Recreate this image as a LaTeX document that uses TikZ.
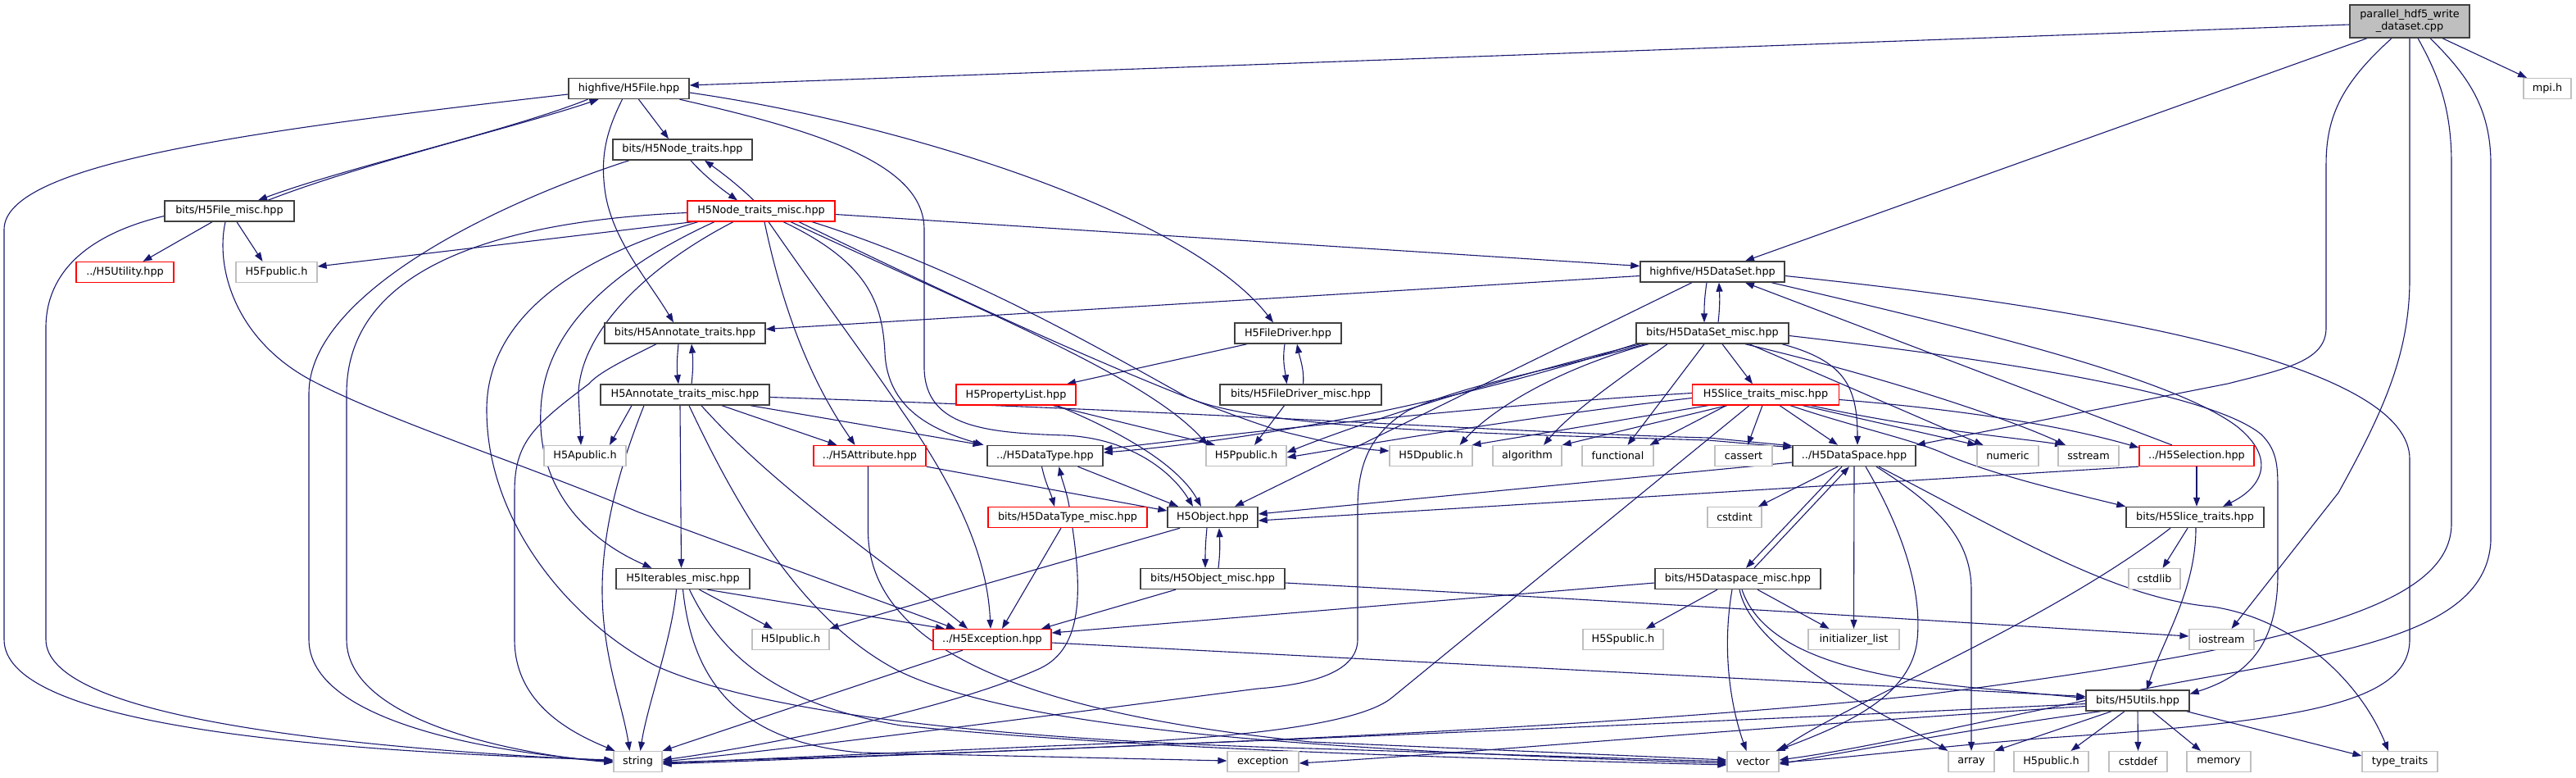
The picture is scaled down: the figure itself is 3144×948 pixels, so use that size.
\documentclass[tikz,border=0pt]{standalone}
\usepackage{fontspec}
\setmainfont{DejaVu Sans}
\usetikzlibrary{arrows.meta,backgrounds}
\definecolor{incblue}{HTML}{191970}
\definecolor{extgrey}{HTML}{BFBFBF}
\definecolor{boxdark}{HTML}{404040}

\begin{document}
\begin{tikzpicture}[x=1pt,y=-1pt,
    every node/.style={font=\fontsize{12.8pt}{15pt}\selectfont,inner sep=0pt,minimum height=25pt},
    dbox/.style={draw=boxdark,line width=1.4pt,fill=white},
    rbox/.style={draw=red,line width=1.2pt,fill=white},
    ext/.style={draw=extgrey,line width=1.2pt,fill=white},
    incl/.style={draw=incblue,line width=1.1pt,-{Triangle[length=11pt,width=8pt]}}]
    \useasboundingbox (0,0) rectangle (3144,948);

    \node[dbox,fill=extgrey,minimum width=146pt,minimum height=40pt,align=center] (root) at (2941,26) {parallel\_hdf5\_write\\\_dataset.cpp};
    \node[ext,minimum width=58pt] (mpih) at (3109,108) {mpi.h};
    \node[dbox,minimum width=147pt] (hfile) at (767.5,108) {highfive/H5File.hpp};
    \node[dbox,minimum width=158pt] (filemisc) at (280,257.5) {bits/H5File\_misc.hpp};
    \node[rbox,minimum width=119pt] (utility) at (152.5,332) {../H5Utility.hpp};
    \node[ext,minimum width=99pt] (fpublic) at (337.5,332) {H5Fpublic.h};
    \node[dbox,minimum width=170pt] (nodetraits) at (833,182.5) {bits/H5Node\_traits.hpp};
    \node[rbox,minimum width=180pt] (nodemisc) at (929,257.5) {H5Node\_traits\_misc.hpp};
    \node[dbox,minimum width=196pt] (annot) at (836,406.5) {bits/H5Annotate\_traits.hpp};
    \node[dbox,minimum width=206pt] (annotmisc) at (836,481.5) {H5Annotate\_traits\_misc.hpp};
    \node[dbox,minimum width=130pt] (driver) at (1572,406.5) {H5FileDriver.hpp};
    \node[dbox,minimum width=197pt] (drivermisc) at (1587.5,481.5) {bits/H5FileDriver\_misc.hpp};
    \node[rbox,minimum width=146pt] (proplist) at (1240,481.5) {H5PropertyList.hpp};
    \node[dbox,minimum width=176pt] (dataset) at (2090,331.5) {highfive/H5DataSet.hpp};
    \node[dbox,minimum width=186pt] (datasetmisc) at (2090,406.5) {bits/H5DataSet\_misc.hpp};
    \node[rbox,minimum width=179pt] (slicemisc) at (2155,481.5) {H5Slice\_traits\_misc.hpp};
    \node[dbox,minimum width=150pt] (dataspace) at (2263,556) {../H5DataSpace.hpp};
    \node[ext,minimum width=70pt] (cassert) at (2128,556) {cassert};
    \node[ext,minimum width=87pt] (functional) at (1974.5,556) {functional};
    \node[ext,minimum width=84pt] (algorithm) at (1864,556) {algorithm};
    \node[ext,minimum width=101pt] (dpublic) at (1746.5,556) {H5Dpublic.h};
    \node[ext,minimum width=98pt] (ppublic) at (1521,556) {H5Ppublic.h};
    \node[dbox,minimum width=141pt] (datatype) at (1275.5,556) {../H5DataType.hpp};
    \node[rbox,minimum width=137pt] (attribute) at (1061.5,556) {../H5Attribute.hpp};
    \node[ext,minimum width=100pt] (apublic) at (714,556) {H5Apublic.h};
    \node[rbox,minimum width=194pt] (datatypemisc) at (1303,631) {bits/H5DataType\_misc.hpp};
    \node[dbox,minimum width=110pt] (object) at (1480,631) {H5Object.hpp};
    \node[ext,minimum width=66pt] (cstdint) at (2117,631) {cstdint};
    \node[dbox,minimum width=163pt] (iterables) at (833.5,706) {H5Iterables\_misc.hpp};
    \node[dbox,minimum width=176pt] (objectmisc) at (1480,706) {bits/H5Object\_misc.hpp};
    \node[dbox,minimum width=202pt] (dsmisc) at (2121,706) {bits/H5Dataspace\_misc.hpp};
    \node[ext,minimum width=94pt] (ipublic) at (965,780) {H5Ipublic.h};
    \node[rbox,minimum width=144pt] (exceptionh) at (1211,780) {../H5Exception.hpp};
    \node[ext,minimum width=98pt] (spublic) at (1981,780) {H5Spublic.h};
    \node[ext,minimum width=111pt] (initlist) at (2262.5,780) {initializer\_list};
    \node[ext,minimum width=75pt] (numeric) at (2450.5,556) {numeric};
    \node[ext,minimum width=74pt] (sstream) at (2549,556) {sstream};
    \node[rbox,minimum width=140pt] (selection) at (2681,556) {../H5Selection.hpp};
    \node[dbox,minimum width=168pt] (slicetraits) at (2679,631) {bits/H5Slice\_traits.hpp};
    \node[ext,minimum width=63pt] (cstdlib) at (2629.5,706) {cstdlib};
    \node[ext,minimum width=79pt] (iostream) at (2711.5,780) {iostream};
    \node[dbox,minimum width=126pt] (utils) at (2609,854.5) {bits/H5Utils.hpp};
    \node[ext,minimum width=59pt] (string) at (778.5,929) {string};
    \node[ext,minimum width=87pt] (exception) at (1541.5,929) {exception};
    \node[ext,minimum width=63pt] (vector) at (2139.5,929) {vector};
    \node[ext,minimum width=56pt] (array) at (2406,929) {array};
    \node[ext,minimum width=91pt] (h5public) at (2503.5,929) {H5public.h};
    \node[ext,minimum width=71pt] (cstddef) at (2609.5,929) {cstddef};
    \node[ext,minimum width=78pt] (memory) at (2708,929) {memory};
    \node[ext,minimum width=92pt] (typetraits) at (2929,929) {type\_traits};

    \begin{scope}[on background layer]
    % parallel_hdf5_write_dataset.cpp
    \draw[incl] ([yshift=-4pt]root.west) -- ([yshift=4pt]hfile.east);
    \draw[incl] ([xshift=-52pt]root.south) -- ([xshift=40pt]dataset.north);
    \draw[incl] ([xshift=-22pt]root.south) .. controls (2860,100) and (2839,140) .. (2839,200) -- (2839,400) .. controls (2839,440) and (2790,450) .. (2719,468) -- (dataspace.north east);
    \draw[incl] (root.south) -- (2941,340) .. controls (2941,430) and (2910,500) .. (2854,601) -- ([xshift=12pt]iostream.north);
    \draw[incl] ([xshift=10pt]root.south) .. controls (2975,90) and (2992,130) .. (2992,200) -- (2992,640) .. controls (2990,740) and (2800,790) .. (2344,848) .. controls (1900,895) and (1200,918) .. ([yshift=-1pt]string.east);
    \draw[incl] ([xshift=25pt]root.south) .. controls (3010,90) and (3040,130) .. (3040,200) -- (3040,660) .. controls (3035,760) and (2900,790) .. (2700,825) .. controls (2500,860) and (2300,910) .. ([yshift=2pt]vector.east);
    \draw[incl] ([xshift=40pt]root.south) -- ([xshift=-25pt]mpih.north);
    % highfive/H5File.hpp
    \draw[incl] ([xshift=-50pt]hfile.south) .. controls (620,160) and (420,205) .. ([xshift=35pt]filemisc.north);
    \draw[incl] ([xshift=47pt]filemisc.north) .. controls (440,200) and (630,155) .. ([xshift=-37pt]hfile.south);
    \draw[incl] ([yshift=-7pt]hfile.west) .. controls (300,160) and (5,200) .. (5,280) -- (5,780) .. controls (5,880) and (350,915) .. ([yshift=2pt]string.west);
    \draw[incl] ([xshift=12pt]hfile.south) -- ([xshift=-17pt]nodetraits.north);
    \draw[incl] ([xshift=-8pt]hfile.south) .. controls (740,160) and (733,190) .. (738,230) .. controls (745,290) and (790,340) .. ([xshift=-14pt]annot.north);
    \draw[incl] ([xshift=62pt]hfile.south) .. controls (1000,160) and (1128,200) .. (1128,280) -- (1128,450) .. controls (1130,520) and (1200,528) .. (1300,531) .. controls (1380,535) and (1430,575) .. ([xshift=-24pt]object.north);
    \draw[incl] ([yshift=-5pt]hfile.east) .. controls (1100,150) and (1450,260) .. ([xshift=-18pt]driver.north);
    % bits/H5File_misc.hpp
    \draw[incl] ([xshift=-21pt]filemisc.south) -- ([xshift=22pt]utility.north);
    \draw[incl] ([xshift=9pt]filemisc.south) -- ([xshift=-17pt]fpublic.north);
    \draw[incl] ([yshift=-6pt]filemisc.west) .. controls (110,285) and (56,330) .. (56,400) -- (56,780) .. controls (56,870) and (380,910) .. ([yshift=1pt]string.west);
    \draw[incl] ([xshift=-5pt]filemisc.south) .. controls (262,330) and (290,420) .. (388,468) .. controls (480,515) and (650,570) .. (780,625) -- ([xshift=-45pt]exceptionh.north);
    % bits/H5Node_traits.hpp
    \draw[incl] ([xshift=10pt]nodetraits.south) .. controls (860,215) and (880,230) .. ([xshift=-29pt]nodemisc.north);
    \draw[incl] ([xshift=-9pt]nodemisc.north) .. controls (900,225) and (880,210) .. ([xshift=27pt]nodetraits.south);
    \draw[incl] ([xshift=-65pt]nodetraits.south) .. controls (600,250) and (377,360) .. (377,480) -- (377,780) .. controls (377,880) and (600,918) .. (string.west);
    % H5Node_traits_misc.hpp
    \draw[incl] ([xshift=-83pt]nodemisc.south) -- ([yshift=7pt]fpublic.east);
    \draw[incl] ([yshift=-2pt]nodemisc.west) .. controls (600,270) and (423,330) .. (423,480) -- (423,780) .. controls (423,885) and (650,922) .. ([yshift=-1pt]string.west);
    \draw[incl] ([xshift=-77pt]nodemisc.south) .. controls (650,330) and (594,420) .. (594,500) .. controls (594,640) and (700,760) .. (800,812) .. controls (950,880) and (1300,905) .. (1600,913) -- (vector.west);
    \draw[incl] ([xshift=-57pt]nodemisc.south) .. controls (720,340) and (663,420) .. (660,500) .. controls (655,600) and (720,660) .. ([xshift=-38pt]iterables.north);
    \draw[incl] ([xshift=-34pt]nodemisc.south) .. controls (780,330) and (708,410) .. (706,480) -- ([xshift=-5pt]apublic.north);
    \draw[incl] ([xshift=4pt]nodemisc.south) .. controls (960,400) and (1000,480) .. ([xshift=-18pt]attribute.north);
    \draw[incl] ([xshift=9pt]nodemisc.south) .. controls (1000,360) and (1060,440) .. (1100,500) .. controls (1170,600) and (1205,680) .. ([xshift=-2pt]exceptionh.north);
    \draw[incl] ([xshift=27pt]nodemisc.south) .. controls (1060,320) and (1077,370) .. (1080,430) .. controls (1083,500) and (1140,525) .. ([xshift=-75pt]datatype.north);
    \draw[incl] ([xshift=36pt]nodemisc.south) .. controls (1200,380) and (1400,460) .. ([xshift=-47pt]ppublic.north);
    \draw[incl] ([xshift=46pt]nodemisc.south) .. controls (1200,380) and (1420,480) .. (1560,525) .. controls (1620,540) and (1660,548) .. ([yshift=6pt]dpublic.west);
    \draw[incl] ([xshift=62pt]nodemisc.south) .. controls (1180,330) and (1350,430) .. (1450,485) .. controls (1520,515) and (1700,525) .. (1917,532) -- (2085,537) -- ([yshift=-3pt]dataspace.north west);
    \draw[incl] ([yshift=-4pt]nodemisc.east) -- ([yshift=7pt]dataset.west);
    % bits/H5Annotate_traits.hpp
    \draw[incl] ([xshift=-8pt]annot.south) .. controls (826,440) and (826,450) .. ([xshift=-8pt]annotmisc.north);
    \draw[incl] ([xshift=8pt]annotmisc.north) .. controls (846,450) and (846,440) .. ([xshift=8pt]annot.south);
    \draw[incl] ([xshift=-35pt]annot.south) .. controls (760,440) and (730,455) .. (719,468) .. controls (650,520) and (628,540) .. (628,600) -- (628,780) .. controls (628,860) and (700,895) .. ([xshift=-28pt]string.north);
    % H5Annotate_traits_misc.hpp
    \draw[incl] ([xshift=-65pt]annotmisc.south) -- ([xshift=30pt]apublic.north);
    \draw[incl] ([xshift=-50pt]annotmisc.south) .. controls (760,560) and (735,640) .. (735,720) .. controls (735,800) and (760,860) .. ([xshift=-10pt]string.north);
    \draw[incl] ([xshift=-6pt]annotmisc.south) -- ([xshift=-2pt]iterables.north);
    \draw[incl] ([xshift=5pt]annotmisc.south) .. controls (900,620) and (980,760) .. (1100,820) .. controls (1250,890) and (1600,915) .. ([yshift=-2pt]vector.west);
    \draw[incl] ([xshift=20pt]annotmisc.south) .. controls (950,600) and (1100,700) .. ([xshift=-30pt]exceptionh.north);
    \draw[incl] ([xshift=45pt]annotmisc.south) -- ([xshift=-40pt]attribute.north);
    \draw[incl] ([xshift=80pt]annotmisc.south) -- ([xshift=-77pt]datatype.north);
    \draw[incl] ([yshift=-3pt]annotmisc.east) .. controls (1500,503) and (1850,528) .. (2085,534) -- ([yshift=-1pt]dataspace.north west);
    % H5Iterables_misc.hpp
    \draw[incl] ([xshift=30pt]iterables.south) -- ([xshift=-58pt]exceptionh.north);
    \draw[incl] ([xshift=20pt]iterables.south) -- ([xshift=-22pt]ipublic.north);
    \draw[incl] ([xshift=-8pt]iterables.south) .. controls (820,780) and (790,860) .. ([xshift=3pt]string.north);
    \draw[incl] (iterables.south) .. controls (845,830) and (900,905) .. (1050,918) -- ([yshift=1pt]exception.west);
    \draw[incl] ([xshift=8pt]iterables.south) .. controls (880,800) and (950,860) .. (1100,885) .. controls (1400,915) and (1800,925) .. ([yshift=-4pt]vector.west);
    % ../H5Attribute.hpp
    \draw[incl] (attribute.south east) -- ([yshift=8pt]object.west);
    \draw[incl] ([xshift=-2pt]attribute.south) -- (1059.5,650) .. controls (1062,790) and (1250,870) .. (1600,905) -- ([yshift=2pt]vector.west);
    % ../H5DataType.hpp
    \draw[incl] ([xshift=-4pt]datatype.south) .. controls (1276,590) and (1282,600) .. ([xshift=-16pt]datatypemisc.north);
    \draw[incl] ([xshift=2pt]datatypemisc.north) .. controls (1302,600) and (1296,585) .. ([xshift=17pt]datatype.south);
    \draw[incl] ([xshift=40pt]datatype.south) -- ([xshift=-42pt]object.north);
    \draw[incl] ([xshift=-8pt]datatypemisc.south) -- ([xshift=12pt]exceptionh.north);
    \draw[incl] ([xshift=6pt]datatypemisc.south) .. controls (1320,720) and (1322,790) .. (1270,815) .. controls (1150,870) and (900,915) .. ([yshift=2pt]string.east);
    % H5PropertyList.hpp, H5FileDriver.hpp
    \draw[incl] ([xshift=45pt]proplist.south) -- ([xshift=-38pt]ppublic.north);
    \draw[incl] ([xshift=50pt]proplist.south) .. controls (1400,540) and (1445,580) .. ([xshift=-14pt]object.north);
    \draw[incl] ([xshift=-4pt]driver.south) .. controls (1565,440) and (1568,450) .. ([xshift=-17pt]drivermisc.north);
    \draw[incl] ([xshift=3pt]drivermisc.north) .. controls (1592,450) and (1586,435) .. ([xshift=11pt]driver.south);
    \draw[incl] ([xshift=-50pt]driver.south) -- ([xshift=62pt]proplist.north);
    \draw[incl] ([xshift=-20pt]drivermisc.south) -- ([xshift=10pt]ppublic.north);
    % highfive/H5DataSet.hpp
    \draw[incl] ([yshift=-5pt]dataset.west) -- ([yshift=5pt]annot.east);
    \draw[incl] ([xshift=-7pt]dataset.south) .. controls (2080,365) and (2080,375) .. ([xshift=-10pt]datasetmisc.north);
    \draw[incl] ([xshift=7pt]datasetmisc.north) .. controls (2099,375) and (2099,365) .. ([xshift=8pt]dataset.south);
    \draw[incl] ([xshift=-25pt]dataset.south) -- ([xshift=27pt]object.north);
    \draw[incl] ([xshift=72pt]dataset.south) .. controls (2400,400) and (2650,460) .. (2730,520) .. controls (2780,560) and (2760,595) .. ([xshift=34pt]slicetraits.north);
    \draw[incl] ([yshift=-5pt]dataset.east) .. controls (2600,380) and (2941,450) .. (2941,560) -- (2941,780) .. controls (2941,860) and (2800,880) .. (2500,900) .. controls (2350,912) and (2250,925) .. ([yshift=-1pt]vector.east);
    % bits/H5DataSet_misc.hpp
    \draw[incl] ([xshift=12pt]datasetmisc.south) -- ([xshift=-16pt]slicemisc.north);
    \draw[incl] ([xshift=85pt]datasetmisc.south) .. controls (2250,440) and (2267,470) .. ([xshift=4pt]dataspace.north);
    \draw[incl] ([xshift=45pt]datasetmisc.south) -- ([xshift=-30pt]numeric.north);
    \draw[incl] ([xshift=40pt]datasetmisc.south) .. controls (2300,460) and (2450,510) .. ([xshift=-28pt]sstream.north);
    \draw[incl] ([yshift=-3pt]datasetmisc.east) .. controls (2450,440) and (2700,480) .. (2760,530) .. controls (2780,550) and (2780,570) .. (2780,600) -- (2780,700) .. controls (2780,790) and (2740,825) .. ([yshift=8pt]utils.east);
    \draw[incl] ([xshift=-10pt]datasetmisc.south) -- ([xshift=12pt]functional.north);
    \draw[incl] ([xshift=-55pt]datasetmisc.south) .. controls (1980,460) and (1920,500) .. ([xshift=20pt]algorithm.north);
    \draw[incl] ([xshift=-78pt]datasetmisc.south) .. controls (1900,450) and (1820,500) .. ([xshift=35pt]dpublic.north);
    \draw[incl] ([xshift=-88pt]datasetmisc.south) .. controls (1800,470) and (1650,520) .. ([yshift=4pt]ppublic.east);
    \draw[incl] (datasetmisc.south west) .. controls (1750,500) and (1500,540) .. ([yshift=4pt]datatype.east);
    \draw[incl] ([xshift=-82pt]datasetmisc.south) .. controls (1900,450) and (1790,468) .. (1718,501) .. controls (1670,530) and (1657,570) .. (1657,620) -- (1657,780) .. controls (1657,820) and (1600,835) .. (1535,840) .. controls (1300,870) and (1000,910) .. (string.east);
    % H5Slice_traits_misc.hpp
    \draw[incl] ([yshift=2pt]slicemisc.west) .. controls (1800,495) and (1500,530) .. ([yshift=8pt]datatype.east);
    \draw[incl] ([yshift=-4pt]slicemisc.west) .. controls (1850,510) and (1650,545) .. ([yshift=-2pt]ppublic.east);
    \draw[incl] ([xshift=-70pt]slicemisc.south) -- ([xshift=50pt]dpublic.north);
    \draw[incl] ([xshift=-47pt]slicemisc.south) -- (algorithm.north east);
    \draw[incl] ([xshift=-48pt]slicemisc.south) -- ([xshift=-5pt]functional.north east);
    \draw[incl] ([xshift=-20pt]slicemisc.south) -- (1700,850) .. controls (1660,885) and (1500,902) .. (1280,910) -- ([yshift=-2pt]string.east);
    \draw[incl] ([xshift=-4pt]slicemisc.south) -- ([xshift=5pt]cassert.north);
    \draw[incl] ([xshift=17pt]slicemisc.south) -- ([xshift=-20pt]dataspace.north);
    \draw[incl] ([xshift=45pt]slicemisc.south) -- (numeric.north west);
    \draw[incl] ([xshift=55pt]slicemisc.south) .. controls (2350,525) and (2470,535) .. ([xshift=-30pt]sstream.north);
    \draw[incl] ([yshift=-6pt]slicemisc.east) .. controls (2400,500) and (2520,520) .. ([yshift=10pt]selection.west);
    \draw[incl] ([xshift=30pt]slicemisc.south) .. controls (2260,520) and (2330,535) .. (2370,552) .. controls (2420,575) and (2500,595) .. (slicetraits.north west);
    % ../H5Selection.hpp
    \draw[incl] ([xshift=-30pt]selection.north) -- ([xshift=40pt]dataset.south);
    \draw[incl] (selection.south) -- ([xshift=2pt]slicetraits.north);
    \draw[incl] (selection.south west) -- ([yshift=-4pt]object.east);
    % ../H5DataSpace.hpp
    \draw[incl] ([yshift=-8pt]dataspace.west) -- ([yshift=4pt]object.east);
    \draw[incl] ([xshift=-20pt]dataspace.south) -- ([xshift=29pt]cstdint.north);
    \draw[incl] ([xshift=-15pt]dataspace.south) -- ([xshift=10pt]dsmisc.north);
    \draw[incl] ([xshift=20pt]dsmisc.north) -- ([xshift=-6pt]dataspace.south);
    \draw[incl] (dataspace.south) -- (initlist.north);
    \draw[incl] ([xshift=14pt]dataspace.south) .. controls (2330,660) and (2345,730) .. (2340,780) .. controls (2333,850) and (2250,885) .. ([xshift=-4pt]vector.north east);
    \draw[incl] ([xshift=27pt]dataspace.south) .. controls (2370,620) and (2406,660) .. (2406,720) -- (array.north);
    \draw[incl] ([xshift=30pt]dataspace.south) .. controls (2450,650) and (2580,730) .. (2700,740) .. controls (2800,755) and (2880,830) .. ([xshift=-14pt]typetraits.north);
    % bits/H5Dataspace_misc.hpp
    \draw[incl] ([yshift=-5pt]dsmisc.west) -- ([yshift=8pt]exceptionh.east);
    \draw[incl] ([xshift=-25pt]dsmisc.south) -- ([xshift=28pt]spublic.north);
    \draw[incl] ([xshift=24pt]dsmisc.south) -- ([xshift=-30pt]initlist.north);
    \draw[incl] ([xshift=-7pt]dsmisc.south) .. controls (2100,800) and (2115,870) .. ([xshift=-8pt]vector.north);
    \draw[incl] ([xshift=5pt]dsmisc.south) .. controls (2150,790) and (2250,822) .. (2400,838) -- ([yshift=3pt]utils.west);
    \draw[incl] ([xshift=2pt]dsmisc.south) .. controls (2140,800) and (2300,870) .. (array.north west);
    % bits/H5Slice_traits.hpp
    \draw[incl] ([xshift=-9pt]slicetraits.south) -- ([xshift=10pt]cstdlib.north);
    \draw[incl] ([xshift=1pt]slicetraits.south) .. controls (2680,720) and (2640,780) .. ([xshift=11pt]utils.north);
    \draw[incl] ([xshift=-30pt]slicetraits.south) .. controls (2500,760) and (2250,860) .. (vector.north east);
    % H5Object.hpp
    \draw[incl] ([xshift=-7pt]object.south) .. controls (1471,665) and (1471,675) .. ([xshift=-9pt]objectmisc.north);
    \draw[incl] ([xshift=7pt]objectmisc.north) .. controls (1489,675) and (1489,665) .. ([xshift=8pt]object.south);
    \draw[incl] ([xshift=-40pt]object.south) -- (ipublic.north east);
    \draw[incl] ([xshift=-45pt]objectmisc.south) -- ([xshift=60pt]exceptionh.north);
    \draw[incl] ([yshift=-5pt]objectmisc.east) .. controls (2100,740) and (2400,760) .. ([yshift=4pt]iostream.west);
    % ../H5Exception.hpp
    \draw[incl] ([xshift=-36pt]exceptionh.south) -- (string.north east);
    \draw[incl] ([yshift=-4pt]exceptionh.east) -- ([yshift=5pt]utils.west);
    % bits/H5Utils.hpp
    \draw[incl] ([yshift=-4pt]utils.west) .. controls (2000,885) and (1200,918) .. ([yshift=-3pt]string.east);
    \draw[incl] ([yshift=-7pt]utils.west) .. controls (2100,890) and (1800,918) .. ([yshift=-2pt]exception.east);
    \draw[incl] ([xshift=-45pt]utils.south) .. controls (2400,890) and (2250,918) .. ([yshift=-3pt]vector.east);
    \draw[incl] ([xshift=-32pt]utils.south) -- (array.north east);
    \draw[incl] ([xshift=-16pt]utils.south) -- ([xshift=24pt]h5public.north);
    \draw[incl] (utils.south) -- (cstddef.north);
    \draw[incl] ([xshift=18pt]utils.south) -- ([xshift=-22pt]memory.north);
    \draw[incl] ([xshift=-4pt]utils.south east) -- ([yshift=7pt]typetraits.west);
    \end{scope}
\end{tikzpicture}
\end{document}
